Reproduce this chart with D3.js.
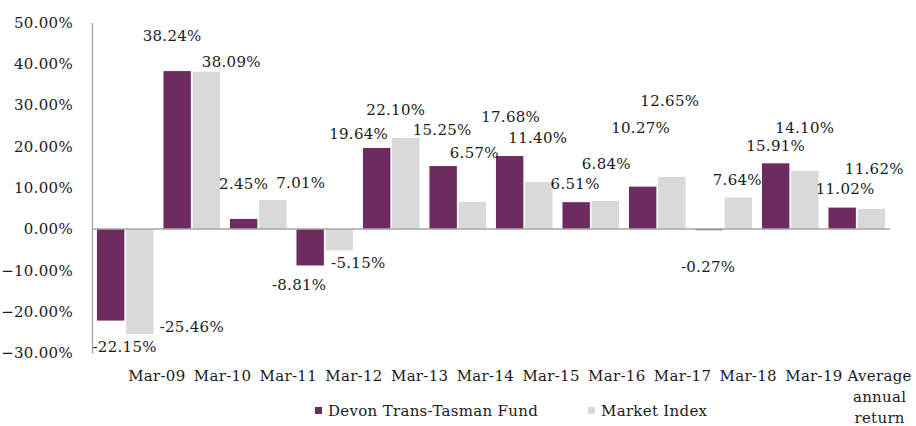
<!DOCTYPE html>
<html>
<head>
<meta charset="utf-8">
<script src="https://cdn.jsdelivr.net/npm/d3@7"></script>
<style>
  html, body { margin: 0; padding: 0; background: #fff; }
  svg { display: block; }
  text { font-family: "DejaVu Serif", serif; fill: #1a1a1a; letter-spacing: 0.3px; }
</style>
</head>
<body>
<svg id="chart" width="916" height="426"></svg>
<script>
// ---- data ----
const categories = ["Mar-09","Mar-10","Mar-11","Mar-12","Mar-13","Mar-14","Mar-15","Mar-16","Mar-17","Mar-18","Mar-19","Average annual return"];
const seriesNames = ["Devon Trans-Tasman Fund", "Market Index"];
const fundValues   = [-22.15, 38.24, 2.45, -8.81, 19.64, 15.25, 17.68, 6.51, 10.27, -0.27, 15.91, 5.2];
const marketValues = [-25.46, 38.09, 7.01, -5.15, 22.10, 6.57, 11.40, 6.84, 12.65, 7.64, 14.10, 4.9];
const fundLabels   = ["-22.15%","38.24%","2.45%","-8.81%","19.64%","15.25%","17.68%","6.51%","10.27%","-0.27%","15.91%","11.02%"];
const marketLabels = ["-25.46%","38.09%","7.01%","-5.15%","22.10%","6.57%","11.40%","6.84%","12.65%","7.64%","14.10%","11.62%"];
const yTicks = [50, 40, 30, 20, 10, 0, -10, -20, -30];

// ---- label layout (offset px from bar centre, level on value scale) ----
const fundLabelLayout   = [[14,-28.5],[-5,46.7],[0,10.9],[-11,-13.6],[-18,23.0],[-1,24.0],[1,27.1],[-1,10.9],[-2,24.5],[-1,-9.2],[0,20.1],[3,9.7]];
const marketLabelLayout = [[52,-23.7],[25,40.4],[28,11.1],[19,-8.2],[-10,28.8],[2,18.4],[-1,22.0],[1,15.7],[-2,31.0],[-1,11.9],[0,24.5],[3,14.5]];

const colors = ["#6e2b60", "#d9d9d9"];
const FS = 15;

const svg = d3.select("#chart");
const mLeft = 92, mRight = 890, mTop = 22.5, mBottom = 353;

const x0 = d3.scaleBand().domain(categories).range([mLeft, mRight]).paddingInner(0).paddingOuter(0);
const x1 = d3.scaleBand().domain([0,1]).range([0, x0.bandwidth()]).paddingInner(0.06).paddingOuter(0.17);
// category labels sit on their own, slightly narrower band scale (as in the original layout)
const xLab = d3.scaleBand().domain(categories).range([124, 912.5]);
const y = d3.scaleLinear().domain([-30, 50]).range([mBottom, mTop]);

// y tick labels
const yAxis = d3.axisLeft(y).tickValues(yTicks).tickSize(0).tickPadding(19)
  .tickFormat(d => d3.format(".2f")(d) + "%");
const ga = svg.append("g").attr("transform", `translate(${mLeft},0)`).call(yAxis);
ga.select(".domain").attr("stroke", "#a6a6a6").attr("stroke-width", 1.3);
ga.selectAll("text").attr("font-size", FS).attr("font-family", "DejaVu Serif").attr("fill", "#1a1a1a");

// bars
const series = [fundValues, marketValues];
series.forEach((vals, s) => {
  svg.append("g").selectAll("rect").data(vals).join("rect")
    .attr("x", (d, i) => x0(categories[i]) + x1(s))
    .attr("width", x1.bandwidth())
    .attr("y", d => y(Math.max(0, d)))
    .attr("height", d => Math.abs(y(d) - y(0)))
    .attr("fill", colors[s]);
});

// zero line
svg.append("line").attr("x1", mLeft).attr("x2", mRight).attr("y1", y(0)).attr("y2", y(0))
  .attr("stroke", "#a6a6a6").attr("stroke-width", 1.5);

// value labels
[[fundLabels, fundLabelLayout], [marketLabels, marketLabelLayout]].forEach(([labels, layout], s) => {
  svg.append("g").selectAll("text").data(labels).join("text")
    .attr("x", (d, i) => x0(categories[i]) + x1(s) + x1.bandwidth() / 2 + layout[i][0])
    .attr("y", (d, i) => y(layout[i][1]))
    .attr("dy", "0.35em")
    .attr("text-anchor", "middle")
    .attr("font-size", FS)
    .text(d => d);
});

// category labels
const catG = svg.append("g");
categories.forEach((c, i) => {
  const last = i === categories.length - 1;
  const cx = xLab(c) + xLab.bandwidth() / 2;
  const words = last ? ["Average", "annual", "return"] : [c];
  const t = catG.append("text")
    .attr("x", cx)
    .attr("y", 376)
    .attr("text-anchor", "middle")
    .attr("font-size", FS);
  words.forEach((w, k) => {
    t.append("tspan").attr("x", cx)
      .attr("dy", k === 0 ? "0.35em" : 21).text(w);
  });
});

// legend
const legend = svg.append("g");
const legendX = [315, 588];
seriesNames.forEach((n, s) => {
  legend.append("rect").attr("x", legendX[s]).attr("y", 407).attr("width", 7).attr("height", 7).attr("fill", colors[s]);
  legend.append("text").attr("x", legendX[s] + 13).attr("y", 411).attr("dy", "0.35em")
    .attr("font-size", FS).text(n);
});
</script>
</body>
</html>
